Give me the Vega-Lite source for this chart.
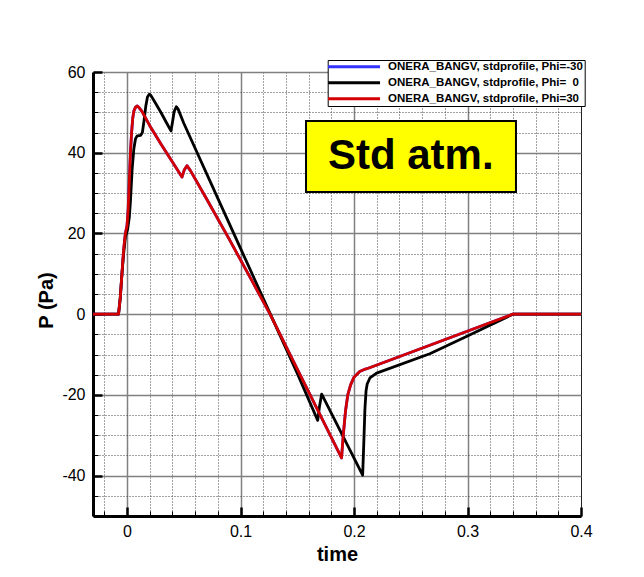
{
  "$schema": "https://vega.github.io/schema/vega-lite/v6.json",
  "width": 488,
  "height": 444,
  "autosize": {"type": "none"},
  "padding": {"left": 93, "top": 72, "right": 63, "bottom": 61},
  "config": {
    "font": "Liberation Sans",
    "view": {"stroke": "#222222", "strokeWidth": 1}
  },
  "encoding": {
    "x": {
      "field": "t",
      "type": "quantitative",
      "scale": {"domain": [-0.03, 0.4], "nice": false, "zero": false},
      "axis": {
        "title": "time",
        "titleFontSize": 20,
        "titleFontWeight": "bold",
        "titleColor": "#000000",
        "titlePadding": 1,
        "values": [-0.02, 0, 0.02, 0.04, 0.06, 0.08, 0.1, 0.12, 0.14, 0.16, 0.18, 0.2, 0.22, 0.24, 0.26, 0.28, 0.3, 0.32, 0.34, 0.36, 0.38, 0.4],
        "labelExpr": "abs(datum.value*10-round(datum.value*10))<1e-6 ? ((datum.value<0?'-':'') + format(abs(datum.value),'~g')) : ''",
        "labelFontSize": 16,
        "labelColor": "#000000",
        "labelFlush": false,
        "labelOverlap": false,
        "labelPadding": 16,
        "domainColor": "#000000",
        "domainWidth": 3,
        "tickColor": "#000000",
        "tickSize": {"condition": {"test": "abs(datum.value*10-round(datum.value*10))<1e-6", "value": -9}, "value": -5},
        "tickWidth": {"condition": {"test": "abs(datum.value*10-round(datum.value*10))<1e-6", "value": 2.5}, "value": 1},
        "grid": true,
        "gridColor": {"condition": {"test": "abs(datum.value*10-round(datum.value*10))<1e-6", "value": "#808080"}, "value": "#444444"},
        "gridDash": {"condition": {"test": "abs(datum.value*10-round(datum.value*10))<1e-6", "value": []}, "value": [1, 2]},
        "gridWidth": {"condition": {"test": "abs(datum.value*10-round(datum.value*10))<1e-6", "value": 1.5}, "value": 1},
        "gridOpacity": {"condition": {"test": "datum.value > 0.39", "value": 0}, "value": 1}
      }
    },
    "y": {
      "field": "p",
      "type": "quantitative",
      "scale": {"domain": [-50, 60], "nice": false, "zero": false},
      "axis": {
        "title": "P (Pa)",
        "titleFontSize": 20,
        "titleFontWeight": "bold",
        "titleColor": "#000000",
        "titlePadding": 5,
        "titleY": 228,
        "values": [-45, -40, -35, -30, -25, -20, -15, -10, -5, 0, 5, 10, 15, 20, 25, 30, 35, 40, 45, 50, 55, 60],
        "labelExpr": "datum.value % 20 === 0 ? ((datum.value<0?'-':'') + format(abs(datum.value),'~g')) : ''",
        "labelFontSize": 16,
        "labelColor": "#000000",
        "labelFlush": false,
        "labelOverlap": false,
        "labelPadding": 17,
        "domainColor": "#000000",
        "domainWidth": 3,
        "tickColor": "#000000",
        "tickSize": {"condition": {"test": "datum.value % 20 === 0", "value": -9}, "value": -5},
        "tickWidth": {"condition": {"test": "datum.value % 20 === 0", "value": 2.5}, "value": 1},
        "grid": true,
        "gridColor": {"condition": {"test": "datum.value % 20 === 0", "value": "#808080"}, "value": "#444444"},
        "gridDash": {"condition": {"test": "datum.value % 20 === 0", "value": []}, "value": [1, 2]},
        "gridWidth": {"condition": {"test": "datum.value % 20 === 0", "value": 1.5}, "value": 1}
      }
    }
  },
  "layer": [
    {
      "data": {
        "values": [
          {"s": "Phi=-30", "t": -0.03, "p": 0},
          {"s": "Phi=-30", "t": -0.0075, "p": 0},
          {"s": "Phi=-30", "t": -0.006, "p": 4},
          {"s": "Phi=-30", "t": -0.0045, "p": 10},
          {"s": "Phi=-30", "t": -0.003, "p": 16},
          {"s": "Phi=-30", "t": -0.0015, "p": 20},
          {"s": "Phi=-30", "t": 0, "p": 22},
          {"s": "Phi=-30", "t": 0.001, "p": 26},
          {"s": "Phi=-30", "t": 0.002, "p": 33},
          {"s": "Phi=-30", "t": 0.003, "p": 40},
          {"s": "Phi=-30", "t": 0.004, "p": 45},
          {"s": "Phi=-30", "t": 0.005, "p": 48.5},
          {"s": "Phi=-30", "t": 0.006, "p": 50.3},
          {"s": "Phi=-30", "t": 0.0075, "p": 51.3},
          {"s": "Phi=-30", "t": 0.009, "p": 51.6},
          {"s": "Phi=-30", "t": 0.0105, "p": 51.2},
          {"s": "Phi=-30", "t": 0.013, "p": 50.3},
          {"s": "Phi=-30", "t": 0.02, "p": 46.7},
          {"s": "Phi=-30", "t": 0.03, "p": 42.1},
          {"s": "Phi=-30", "t": 0.04, "p": 37.7},
          {"s": "Phi=-30", "t": 0.0484, "p": 34.0},
          {"s": "Phi=-30", "t": 0.0505, "p": 35.8},
          {"s": "Phi=-30", "t": 0.0528, "p": 36.8},
          {"s": "Phi=-30", "t": 0.056, "p": 35.5},
          {"s": "Phi=-30", "t": 0.07, "p": 28.6},
          {"s": "Phi=-30", "t": 0.09, "p": 18.6},
          {"s": "Phi=-30", "t": 0.11, "p": 8.3},
          {"s": "Phi=-30", "t": 0.126, "p": 0},
          {"s": "Phi=-30", "t": 0.15, "p": -13.6},
          {"s": "Phi=-30", "t": 0.17, "p": -24.9},
          {"s": "Phi=-30", "t": 0.189, "p": -35.6},
          {"s": "Phi=-30", "t": 0.1905, "p": -30},
          {"s": "Phi=-30", "t": 0.1925, "p": -24},
          {"s": "Phi=-30", "t": 0.1945, "p": -20},
          {"s": "Phi=-30", "t": 0.197, "p": -17.5},
          {"s": "Phi=-30", "t": 0.2, "p": -15.6},
          {"s": "Phi=-30", "t": 0.205, "p": -14.2},
          {"s": "Phi=-30", "t": 0.21, "p": -13.6},
          {"s": "Phi=-30", "t": 0.2125, "p": -13.4},
          {"s": "Phi=-30", "t": 0.2668, "p": -7.7},
          {"s": "Phi=-30", "t": 0.34, "p": 0},
          {"s": "Phi=-30", "t": 0.4, "p": 0},

          {"s": "Phi=  0", "t": -0.03, "p": 0},
          {"s": "Phi=  0", "t": -0.0075, "p": 0},
          {"s": "Phi=  0", "t": -0.006, "p": 4},
          {"s": "Phi=  0", "t": -0.0045, "p": 10},
          {"s": "Phi=  0", "t": -0.003, "p": 15},
          {"s": "Phi=  0", "t": -0.0015, "p": 19},
          {"s": "Phi=  0", "t": 0.0005, "p": 21},
          {"s": "Phi=  0", "t": 0.002, "p": 24},
          {"s": "Phi=  0", "t": 0.003, "p": 28},
          {"s": "Phi=  0", "t": 0.0045, "p": 36},
          {"s": "Phi=  0", "t": 0.006, "p": 41},
          {"s": "Phi=  0", "t": 0.0075, "p": 43.5},
          {"s": "Phi=  0", "t": 0.009, "p": 44.2},
          {"s": "Phi=  0", "t": 0.012, "p": 44.3},
          {"s": "Phi=  0", "t": 0.0135, "p": 45},
          {"s": "Phi=  0", "t": 0.015, "p": 48},
          {"s": "Phi=  0", "t": 0.0165, "p": 51.5},
          {"s": "Phi=  0", "t": 0.018, "p": 53.8},
          {"s": "Phi=  0", "t": 0.0196, "p": 54.5},
          {"s": "Phi=  0", "t": 0.021, "p": 54.2},
          {"s": "Phi=  0", "t": 0.025, "p": 52.3},
          {"s": "Phi=  0", "t": 0.03, "p": 49.9},
          {"s": "Phi=  0", "t": 0.035, "p": 47.3},
          {"s": "Phi=  0", "t": 0.0387, "p": 45.4},
          {"s": "Phi=  0", "t": 0.04, "p": 47.5},
          {"s": "Phi=  0", "t": 0.0415, "p": 50.2},
          {"s": "Phi=  0", "t": 0.0434, "p": 51.4},
          {"s": "Phi=  0", "t": 0.045, "p": 50.8},
          {"s": "Phi=  0", "t": 0.05, "p": 47.3},
          {"s": "Phi=  0", "t": 0.08, "p": 28.7},
          {"s": "Phi=  0", "t": 0.1, "p": 16.3},
          {"s": "Phi=  0", "t": 0.1263, "p": 0},
          {"s": "Phi=  0", "t": 0.15, "p": -14.7},
          {"s": "Phi=  0", "t": 0.168, "p": -26.3},
          {"s": "Phi=  0", "t": 0.1695, "p": -23},
          {"s": "Phi=  0", "t": 0.1715, "p": -19.8},
          {"s": "Phi=  0", "t": 0.2076, "p": -39.9},
          {"s": "Phi=  0", "t": 0.2086, "p": -32},
          {"s": "Phi=  0", "t": 0.2096, "p": -23.5},
          {"s": "Phi=  0", "t": 0.2106, "p": -19},
          {"s": "Phi=  0", "t": 0.2116, "p": -17.3},
          {"s": "Phi=  0", "t": 0.214, "p": -15.8},
          {"s": "Phi=  0", "t": 0.2199, "p": -14.6},
          {"s": "Phi=  0", "t": 0.2668, "p": -9.8},
          {"s": "Phi=  0", "t": 0.3, "p": -5.4},
          {"s": "Phi=  0", "t": 0.34, "p": 0},
          {"s": "Phi=  0", "t": 0.4, "p": 0},

          {"s": "Phi=30", "t": -0.03, "p": 0},
          {"s": "Phi=30", "t": -0.0075, "p": 0},
          {"s": "Phi=30", "t": -0.006, "p": 4},
          {"s": "Phi=30", "t": -0.0045, "p": 10},
          {"s": "Phi=30", "t": -0.003, "p": 16},
          {"s": "Phi=30", "t": -0.0015, "p": 20},
          {"s": "Phi=30", "t": 0, "p": 22},
          {"s": "Phi=30", "t": 0.001, "p": 26},
          {"s": "Phi=30", "t": 0.002, "p": 33},
          {"s": "Phi=30", "t": 0.003, "p": 40},
          {"s": "Phi=30", "t": 0.004, "p": 45},
          {"s": "Phi=30", "t": 0.005, "p": 48.5},
          {"s": "Phi=30", "t": 0.006, "p": 50.3},
          {"s": "Phi=30", "t": 0.0075, "p": 51.3},
          {"s": "Phi=30", "t": 0.009, "p": 51.6},
          {"s": "Phi=30", "t": 0.0105, "p": 51.2},
          {"s": "Phi=30", "t": 0.013, "p": 50.3},
          {"s": "Phi=30", "t": 0.02, "p": 46.7},
          {"s": "Phi=30", "t": 0.03, "p": 42.1},
          {"s": "Phi=30", "t": 0.04, "p": 37.7},
          {"s": "Phi=30", "t": 0.0484, "p": 34.0},
          {"s": "Phi=30", "t": 0.0505, "p": 35.8},
          {"s": "Phi=30", "t": 0.0528, "p": 36.8},
          {"s": "Phi=30", "t": 0.056, "p": 35.5},
          {"s": "Phi=30", "t": 0.07, "p": 28.6},
          {"s": "Phi=30", "t": 0.09, "p": 18.6},
          {"s": "Phi=30", "t": 0.11, "p": 8.3},
          {"s": "Phi=30", "t": 0.126, "p": 0},
          {"s": "Phi=30", "t": 0.15, "p": -13.6},
          {"s": "Phi=30", "t": 0.17, "p": -24.9},
          {"s": "Phi=30", "t": 0.189, "p": -35.6},
          {"s": "Phi=30", "t": 0.1905, "p": -30},
          {"s": "Phi=30", "t": 0.1925, "p": -24},
          {"s": "Phi=30", "t": 0.1945, "p": -20},
          {"s": "Phi=30", "t": 0.197, "p": -17.5},
          {"s": "Phi=30", "t": 0.2, "p": -15.6},
          {"s": "Phi=30", "t": 0.205, "p": -14.2},
          {"s": "Phi=30", "t": 0.21, "p": -13.6},
          {"s": "Phi=30", "t": 0.2125, "p": -13.4},
          {"s": "Phi=30", "t": 0.2668, "p": -7.7},
          {"s": "Phi=30", "t": 0.34, "p": 0},
          {"s": "Phi=30", "t": 0.4, "p": 0}
        ]
      },
      "mark": {"type": "line", "strokeWidth": 2.8, "strokeJoin": "round"},
      "encoding": {
        "color": {
          "field": "s",
          "type": "nominal",
          "scale": {"domain": ["Phi=-30", "Phi=  0", "Phi=30"], "range": ["#3333ff", "#000000", "#d40000"]},
          "legend": {
            "orient": "none",
            "legendX": 234.7,
            "legendY": -12,
            "title": null,
            "padding": 1,
            "fillColor": "#ffffff",
            "strokeColor": "#000000",
            "symbolType": "M-1.6,0H11.4",
            "symbolSize": 64,
            "symbolStrokeWidth": 3,
            "labelFontSize": 11.5,
            "labelFontWeight": "bold",
            "labelColor": "#000000",
            "labelOffset": 47.8,
            "labelLimit": 400,
            "rowPadding": 3,
            "labelExpr": "'ONERA_BANGV, stdprofile, ' + replace(datum.label, '  ', '\u00a0\u00a0')"
          }
        }
      }
    },
    {
      "data": {"values": [{"t": 0.1577, "p": 47.86, "t2": 0.3427, "p2": 30.27}]},
      "mark": {"type": "rect", "fill": "#ffff00", "stroke": "#000000", "strokeWidth": 2},
      "encoding": {"x2": {"field": "t2"}, "y2": {"field": "p2"}}
    },
    {
      "data": {"values": [{"t": 0.25, "p": 39.2, "label": "Std atm."}]},
      "mark": {"type": "text", "fontSize": 42, "fontWeight": "bold", "align": "center", "baseline": "middle", "color": "#000000"},
      "encoding": {"text": {"field": "label"}}
    }
  ]
}
